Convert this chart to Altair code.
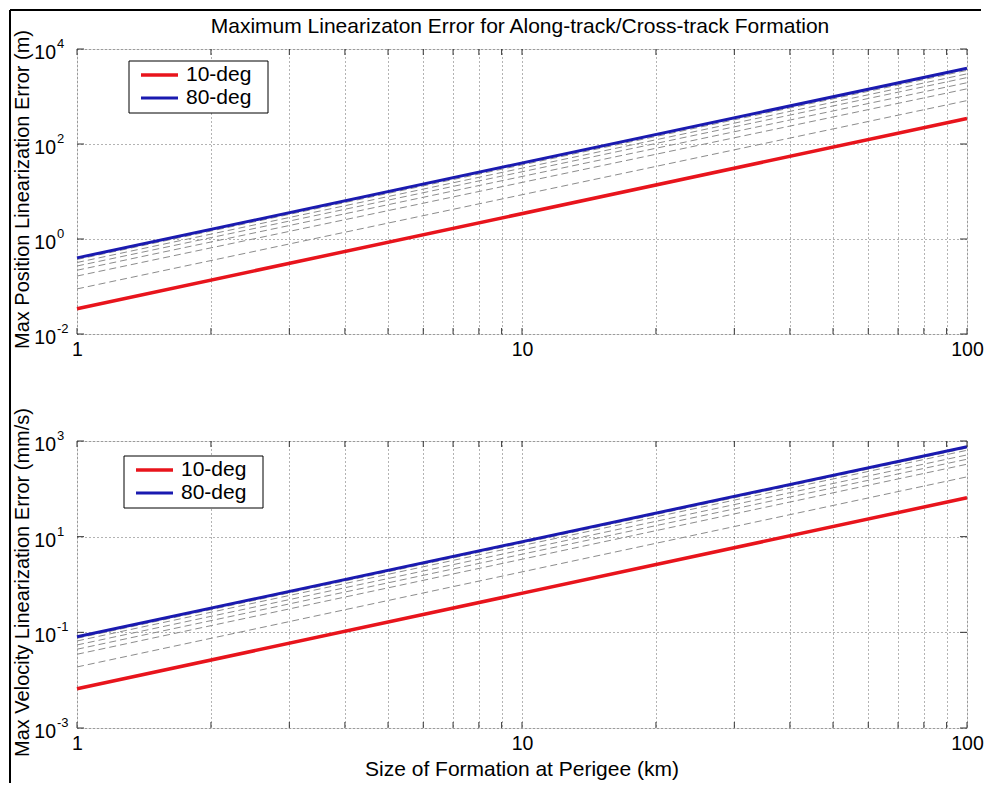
import altair as alt
import pandas as pd

# ---------------- data ----------------
TITLE = "Maximum Linearizaton Error for Along-track/Cross-track Formation"
X_TITLE = "Size of Formation at Perigee (km)"
Y_TITLE_POS = "Max Position Linearization Error (m)"
Y_TITLE_VEL = "Max Velocity Linearization Error (mm/s)"

ANGLES = ["10-deg", "20-deg", "30-deg", "40-deg", "50-deg", "60-deg", "70-deg", "80-deg"]
X_KM = [1, 100]

# position error (m) at x = 1 km and x = 100 km
pos_10 = [0.034, 345]
pos_20 = [0.089, 820]
pos_30 = [0.166, 1450]
pos_40 = [0.22, 1950]
pos_50 = [0.27, 2500]
pos_60 = [0.32, 3000]
pos_70 = [0.37, 3550]
pos_80 = [0.40, 3950]

# velocity error (mm/s) at x = 1 km and x = 100 km
vel_10 = [0.0066, 65]
vel_20 = [0.0189, 178]
vel_30 = [0.0348, 327]
vel_40 = [0.0443, 416]
vel_50 = [0.0545, 512]
vel_60 = [0.066, 640]
vel_70 = [0.075, 715]
vel_80 = [0.081, 760]

X_GRID = [1, 2, 3, 4, 5, 6, 7, 8, 9, 10, 20, 30, 40, 50, 60, 70, 80, 90, 100]
X_LABELS = [1, 10, 100]

POS_TICKS = [0.01, 1, 100, 10000]
POS_EXPS = ["-2", "0", "2", "4"]
VEL_TICKS = [0.001, 0.1, 10, 1000]
VEL_EXPS = ["-3", "-1", "1", "3"]

POS_SERIES = [pos_10, pos_20, pos_30, pos_40, pos_50, pos_60, pos_70, pos_80]
VEL_SERIES = [vel_10, vel_20, vel_30, vel_40, vel_50, vel_60, vel_70, vel_80]

# ---------------- styling ----------------
FONT = "Liberation Sans"
FS = 19.5      # tick labels
FT = 21        # title / legend / x title
FY = 20        # y titles
RED = "#e8141c"
BLUE = "#1a1ab0"
W = 890


def long_df(series_list):
    rows = []
    for name, vals in zip(ANGLES, series_list):
        for xv, yv in zip(X_KM, vals):
            rows.append({"x": xv, "y": yv, "series": name})
    return pd.DataFrame(rows)


def panel(series_list, ydomain, yticks, yexps, ytitle, H, legend_box, with_xtitle, with_title):
    df = long_df(series_list)
    xs = alt.Scale(type="log", domain=[1, 100], nice=False)
    ys = alt.Scale(type="log", domain=ydomain, nice=False)

    xaxis = alt.Axis(
        values=X_GRID, grid=True, gridDash=[1, 3], gridColor="#000000", gridOpacity=0.6,
        ticks=False, domain=False, labelPadding=6, labelFontSize=FS, labelFont=FONT,
        labelColor="#000000", labelFlush=False, labelOverlap=False,
        labelExpr="indexof(%s, datum.value) >= 0 ? format(datum.value, 'd') : ''" % str(X_LABELS),
        title=None,
    )
    yaxis = alt.Axis(
        values=yticks, grid=True, gridDash=[1, 3], gridColor="#000000", gridOpacity=0.6,
        ticks=False, domain=False, labels=False, title=None,
    )

    dashed = alt.Chart(df[df.series.isin(ANGLES[1:-1])]).mark_line(
        strokeDash=[7, 4], color="#8c8c8c", strokeWidth=1
    ).encode(
        x=alt.X("x:Q", scale=xs, axis=xaxis),
        y=alt.Y("y:Q", scale=ys, axis=yaxis),
        detail="series:N",
    )
    red = alt.Chart(df[df.series == ANGLES[0]]).mark_line(color=RED, strokeWidth=3.5).encode(
        x=alt.X("x:Q", scale=xs), y=alt.Y("y:Q", scale=ys)
    )
    blue = alt.Chart(df[df.series == ANGLES[-1]]).mark_line(color=BLUE, strokeWidth=3).encode(
        x=alt.X("x:Q", scale=xs), y=alt.Y("y:Q", scale=ys)
    )

    xt = pd.DataFrame({"x": X_GRID})
    xtick_b = alt.Chart(xt).mark_rule(color="#333333", strokeWidth=1).encode(
        x=alt.X("x:Q", scale=xs), y=alt.value(H), y2=alt.value(H - 6))
    xtick_t = alt.Chart(xt).mark_rule(color="#333333", strokeWidth=1).encode(
        x=alt.X("x:Q", scale=xs), y=alt.value(0), y2=alt.value(6))

    yt = pd.DataFrame({"y": yticks, "base": ["10"] * len(yticks), "exp": yexps})
    ytick_l = alt.Chart(yt).mark_rule(color="#333333", strokeWidth=1).encode(
        y=alt.Y("y:Q", scale=ys), x=alt.value(0), x2=alt.value(7))
    ytick_r = alt.Chart(yt).mark_rule(color="#333333", strokeWidth=1).encode(
        y=alt.Y("y:Q", scale=ys), x=alt.value(W - 7), x2=alt.value(W))
    ylab_base = alt.Chart(yt).mark_text(
        align="right", baseline="middle", fontSize=FS, font=FONT, color="#000000", dy=4
    ).encode(y=alt.Y("y:Q", scale=ys), x=alt.value(-21), text="base:N")
    ylab_exp = alt.Chart(yt).mark_text(
        align="left", baseline="middle", fontSize=13, font=FONT, color="#000000", dy=-5
    ).encode(y=alt.Y("y:Q", scale=ys), x=alt.value(-20), text="exp:N")

    one = pd.DataFrame({"a": [0]})
    bx0, bx1, by0, by1 = legend_box
    leg_rect = alt.Chart(one).mark_rect(fill="white", stroke="black", strokeWidth=1).encode(
        x=alt.value(bx0), x2=alt.value(bx1), y=alt.value(by0), y2=alt.value(by1))
    ly1 = by0 + 14
    ly2 = by0 + 37
    leg_r = alt.Chart(one).mark_rule(color=RED, strokeWidth=3.5).encode(
        x=alt.value(bx0 + 12), x2=alt.value(bx0 + 49), y=alt.value(ly1))
    leg_b = alt.Chart(one).mark_rule(color=BLUE, strokeWidth=3).encode(
        x=alt.value(bx0 + 12), x2=alt.value(bx0 + 49), y=alt.value(ly2))
    leg_t1 = alt.Chart(one).mark_text(align="left", baseline="middle", fontSize=FT, font=FONT,
                                      color="#000000").encode(
        x=alt.value(bx0 + 57), y=alt.value(ly1), text=alt.value(ANGLES[0]))
    leg_t2 = alt.Chart(one).mark_text(align="left", baseline="middle", fontSize=FT, font=FONT,
                                      color="#000000").encode(
        x=alt.value(bx0 + 57), y=alt.value(ly2), text=alt.value(ANGLES[-1]))

    ytitle_mark = alt.Chart(one).mark_text(
        angle=270, align="center", baseline="middle", fontSize=FY, font=FONT, color="#000000"
    ).encode(x=alt.value(-54), y=alt.value(H / 2 - 2), text=alt.value(ytitle))

    layers = [dashed, red, blue, xtick_b, xtick_t, ytick_l, ytick_r, ylab_base, ylab_exp,
              leg_rect, leg_r, leg_b, leg_t1, leg_t2, ytitle_mark]

    if with_xtitle:
        layers.append(alt.Chart(one).mark_text(
            align="center", baseline="middle", fontSize=FT, font=FONT, color="#000000"
        ).encode(x=alt.value(W / 2), y=alt.value(H + 42), text=alt.value(X_TITLE)))
    if with_title:
        layers.append(alt.Chart(one).mark_text(
            align="center", baseline="middle", fontSize=FT, font=FONT, color="#000000"
        ).encode(x=alt.value(W / 2 - 2), y=alt.value(-22), text=alt.value(TITLE)))
        # figure border (top and left edges)
        layers.append(alt.Chart(one).mark_rule(color="black", strokeWidth=2).encode(
            x=alt.value(-67), x2=alt.value(W + 14), y=alt.value(-39)))
        layers.append(alt.Chart(one).mark_rule(color="black", strokeWidth=2).encode(
            x=alt.value(-67), y=alt.value(-39), y2=alt.value(734)))

    return alt.layer(*layers).properties(width=W, height=H)


top = panel(POS_SERIES, [0.01, 10000], POS_TICKS, POS_EXPS, Y_TITLE_POS, 285,
            (52, 191, 12, 64), False, True)
bottom = panel(VEL_SERIES, [0.001, 1000], VEL_TICKS, VEL_EXPS, Y_TITLE_VEL, 287,
               (47, 186, 15, 67), True, False)

chart = alt.vconcat(top, bottom, spacing=107, bounds="flush").properties(
    padding=0, background="white"
).configure_view(stroke="#4d4d4d", strokeWidth=1).configure(font=FONT)

chart.save("out.html", embed_options={"renderer": "svg", "actions": False})
